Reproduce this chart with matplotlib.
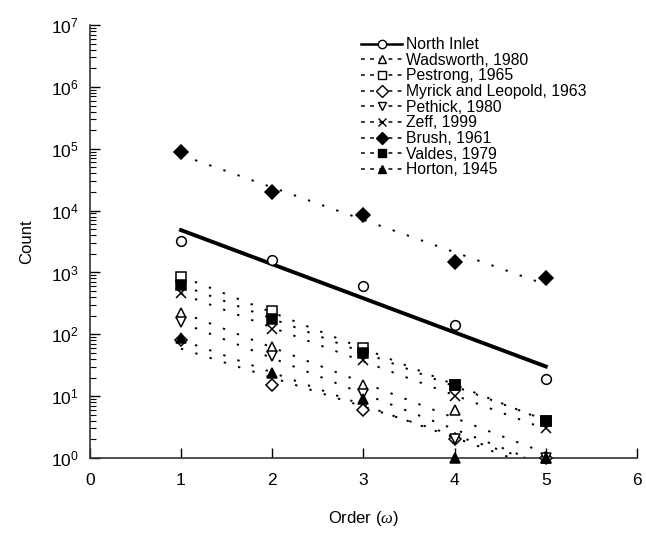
import numpy as np
import matplotlib.pyplot as plt
from matplotlib.lines import Line2D

plt.rcParams['font.family'] = ['Liberation Sans', 'DejaVu Sans']
plt.rcParams['mathtext.fontset'] = 'custom'
plt.rcParams['mathtext.rm'] = 'Liberation Sans'
plt.rcParams['mathtext.it'] = 'Liberation Serif:italic'

# stream order
order = [1, 2, 3, 4, 5]

# counts per order
north_inlet = [3200, 1600, 600, 140, 19]
wadsworth = [220, 62, 15, 6, 1]
pestrong = [840, 235, 60, 15, 4]
myrick = [80, 15, 6, 2, 1]
pethick = [160, 45, 11, 2, 1]
zeff = [470, 120, 38, 10, 3]
brush = [90000, 20000, 8500, 1480, 800]
valdes = [620, 180, 50, 15, 4]
horton = [88, 24, 9, 1, 1]

labels = ["North Inlet", "Wadsworth, 1980", "Pestrong, 1965",
          "Myrick and Leopold, 1963", "Pethick, 1980", "Zeff, 1999",
          "Brush, 1961", "Valdes, 1979", "Horton, 1945"]
series = [north_inlet, wadsworth, pestrong, myrick, pethick, zeff,
          brush, valdes, horton]
markers = ["o", "^", "s", "D", "v", "x", "D", "s", "^"]
filled = [False, False, False, False, False, False, True, True, True]
msizes = [7, 7, 7, 6, 7, 7, 7.5, 7, 7]

dotted = (0, (1.2, 6.5))

fig = plt.figure(figsize=(6.46, 5.33), dpi=100)
ax = fig.add_axes([0.139, 0.1407, 0.847, 0.8123])

x = np.array(order, dtype=float)
handles = []
for i, (lab, vals) in enumerate(zip(labels, series)):
    vals = np.array(vals, dtype=float)
    # log-linear regression line through the points
    slope, icpt = np.polyfit(x, np.log10(vals), 1)
    fit = 10 ** (icpt + slope * x)
    if i == 0:
        ls, lw = "-", 2.8
    else:
        ls, lw = dotted, 1.4
    ax.plot(x, fit, color="black", linestyle=ls, linewidth=lw, zorder=2)
    mfc = "black" if filled[i] else "white"
    ax.plot(x, vals, linestyle="none", marker=markers[i], markersize=msizes[i],
            markerfacecolor=mfc, markeredgecolor="black", markeredgewidth=1.1,
            clip_on=False, zorder=3)
    leg_ls = "-" if i == 0 else (0, (2.5, 3.5))
    leg_lw = 1.8 if i == 0 else 1.1
    handles.append(Line2D([], [], color="black", linestyle=leg_ls, linewidth=leg_lw,
                          marker=markers[i], markersize=6, markerfacecolor=mfc,
                          markeredgecolor="black", markeredgewidth=1.0, label=lab))

ax.set_yscale("log")
ax.set_xlim(0, 6)
ax.set_ylim(1, 1e7)
ax.set_xticks([0, 1, 2, 3, 4, 5, 6])
ax.set_yticks([10 ** k for k in range(8)])

ax.spines["top"].set_visible(False)
ax.spines["right"].set_visible(False)
for s in ["left", "bottom"]:
    ax.spines[s].set_linewidth(1.2)
    ax.spines[s].set_color("#333333")
ax.tick_params(axis="both", which="major", direction="in", length=7, width=1,
               labelsize=12.5)
ax.tick_params(axis="x", which="major", pad=11)
ax.tick_params(axis="y", which="major", pad=8)
ax.tick_params(axis="y", which="minor", direction="in", length=4, width=0.8)
ax.tick_params(axis="x", which="minor", bottom=False)

ax.set_xlabel(r"Order ($\omega$)", fontsize=12, labelpad=15)
ax.set_ylabel("Count", fontsize=12, labelpad=12)

ax.legend(handles=handles, loc="upper left", bbox_to_anchor=(0.482, 0.99),
          frameon=False, fontsize=11.3, numpoints=1, handlelength=2.6,
          handletextpad=0.25, labelspacing=0.04, borderpad=0)

fig.savefig("out.png", dpi=100)
